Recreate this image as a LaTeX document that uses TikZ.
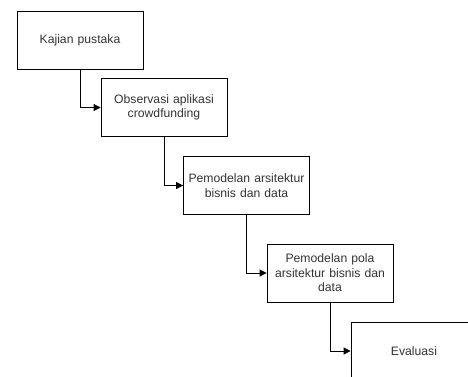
\documentclass[tikz,border=0pt]{standalone}
\usepackage{fontspec}
\setmainfont{Liberation Sans}
\usetikzlibrary{arrows.meta}
\begin{document}
\begin{tikzpicture}[x=1pt,y=-1pt,
  stepbox/.style={draw=black,line width=0.8pt,fill=white,minimum width=126pt,minimum height=58pt,inner sep=0pt,align=center,text width=122pt,font=\fontsize{12.2}{14.5}\selectfont,text=black!80},
  flow/.style={draw=black,line width=0.8pt,-{Triangle[length=7pt,width=7pt]}}]
\useasboundingbox (0,0) rectangle (468,376);
\clip (0,0) rectangle (468,376);
\node[stepbox] (a) at (80,40.5) {Kajian pustaka};
\node[stepbox] (b) at (164,107.5) {Observasi aplikasi\\crowdfunding};
\node[stepbox] (c) at (246.5,185.5) {Pemodelan arsitektur\\bisnis dan data};
\node[stepbox] (d) at (330,273) {Pemodelan pola\\arsitektur bisnis dan\\data};
\node[stepbox] (e) at (414,351) {Evaluasi};
\draw[flow] (a.south) |- (b.west);
\draw[flow] (b.south) |- (c.west);
\draw[flow] (c.south) |- (d.west);
\draw[flow] (d.south) |- (e.west);
\end{tikzpicture}
\end{document}
